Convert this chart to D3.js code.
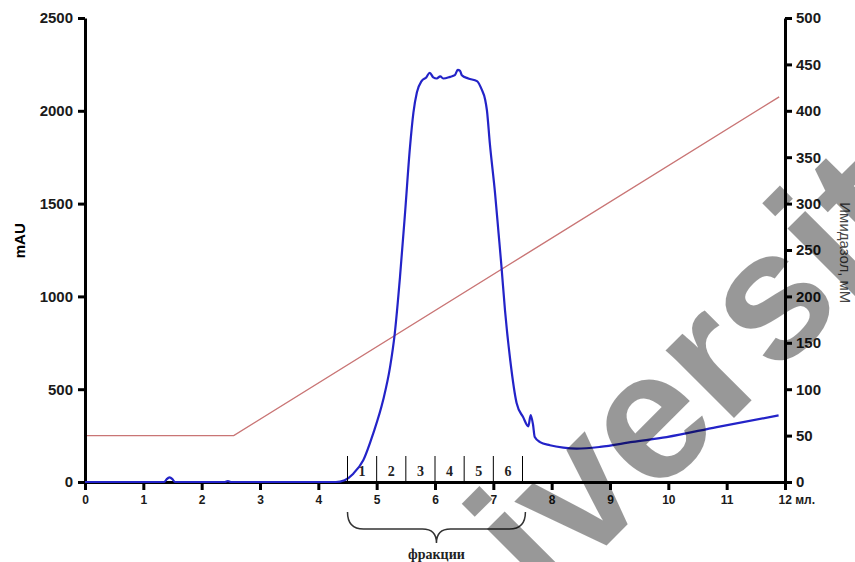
<!DOCTYPE html>
<html>
<head>
<meta charset="utf-8">
<style>
  body { margin: 0; background: #fff; }
  .axis path, .axis line { stroke: #000; stroke-width: 3; }
  .axis text { font-family: "Liberation Sans", Arial, sans-serif; font-weight: bold; fill: #1a1a1a; }
  .uv { fill: none; stroke: #2323c8; stroke-width: 2.2; stroke-linejoin: round; }
  .grad { fill: none; stroke: #c97575; stroke-width: 1.4; }
  .frac line { stroke: #000; stroke-width: 1; }
  .frac text, .brace-label { font-family: "Liberation Serif", "Times New Roman", serif; font-weight: bold; font-size: 14px; fill: #222; }
</style>
</head>
<body>
<script src="https://d3js.org/d3.v7.min.js"></script>
<div class="chart"></div>
<script>
// UV trace (mAU) vs volume (ml)
var uvVolume = [0, 1.36, 1.40, 1.45, 1.50, 1.54, 2.40, 2.45, 2.50, 4.30, 4.45, 4.60, 4.77, 4.94, 5.11, 5.23, 5.31, 5.40, 5.49, 5.57, 5.63, 5.69, 5.77, 5.85, 5.91, 5.97, 6.03, 6.09, 6.14, 6.26, 6.34, 6.39, 6.43, 6.46, 6.57, 6.72, 6.80, 6.86, 6.89, 6.94, 7.03, 7.09, 7.14, 7.20, 7.29, 7.40, 7.51, 7.60, 7.64, 7.68, 7.71, 7.80, 7.97, 8.20, 8.43, 8.83, 9.39, 9.97, 10.83, 11.89];
var uvMAU = [0, 0, 15, 25, 15, 0, 0, 5, 0, 0, 10, 45, 117, 261, 440, 620, 800, 1105, 1464, 1800, 1990, 2100, 2160, 2180, 2205, 2180, 2174, 2186, 2174, 2183, 2192, 2220, 2215, 2192, 2174, 2160, 2115, 2060, 2003, 1824, 1554, 1340, 1159, 925, 656, 424, 350, 300, 360, 310, 242, 215, 198, 185, 180, 189, 216, 242, 296, 359];

// imidazole gradient (mM)
var gradVolume = [0, 2.55, 11.9];
var gradMM = [50, 50, 415];

// fractions
var fracBounds = [4.5, 5.0, 5.5, 6.0, 6.5, 7.0, 7.5];
var fracNames = ["1", "2", "3", "4", "5", "6"];

var xTicks = [0, 1, 2, 3, 4, 5, 6, 7, 8, 9, 10, 11, 12];
var leftTicks = [0, 500, 1000, 1500, 2000, 2500];
var rightTicks = [0, 50, 100, 150, 200, 250, 300, 350, 400, 450, 500];

var W = 855, H = 562;
var margin = {top: 18, right: 70, bottom: 80, left: 85};
var width = W - margin.left - margin.right,
    height = H - margin.top - margin.bottom;

var x = d3.scaleLinear().domain([0, 12]).range([0, width]);
var yL = d3.scaleLinear().domain([0, 2500]).range([height, 0]);
var yR = d3.scaleLinear().domain([0, 500]).range([height, 0]);

var root = d3.select(".chart").append("svg")
    .attr("width", W)
    .attr("height", H);
var svg = root.append("g")
    .attr("transform", "translate(" + margin.left + "," + margin.top + ")");

// gradient line
var gradData = gradVolume.map(function(v, i) { return {v: v, c: gradMM[i]}; });
svg.append("path")
    .datum(gradData)
    .attr("class", "grad")
    .attr("d", d3.line().x(function(d) { return x(d.v); }).y(function(d) { return yR(d.c); }));

// axes
svg.append("g")
    .attr("class", "axis")
    .call(d3.axisLeft(yL).tickValues(leftTicks).tickFormat(d3.format("d"))
        .tickSize(7).tickSizeOuter(0).tickPadding(5))
    .selectAll("text").style("font-size", "15px");

svg.append("g")
    .attr("class", "axis")
    .attr("transform", "translate(" + width + ",0)")
    .call(d3.axisRight(yR).tickValues(rightTicks).tickFormat(d3.format("d"))
        .tickSize(7).tickSizeOuter(0).tickPadding(4))
    .selectAll("text").style("font-size", "15px");

var xAxis = svg.append("g")
    .attr("class", "axis")
    .attr("transform", "translate(0," + height + ")")
    .call(d3.axisBottom(x).tickValues(xTicks).tickSize(8).tickSizeOuter(0).tickPadding(5)
        .tickFormat(function(d) { return d === 12 ? "12 мл." : d; }));
xAxis.selectAll("text").style("font-size", "12px")
    .filter(function(d) { return d === 12; })
    .attr("text-anchor", "start")
    .attr("dx", "-7");

// UV trace
var uvData = uvVolume.map(function(v, i) { return {v: v, a: uvMAU[i]}; });
svg.append("path")
    .datum(uvData)
    .attr("class", "uv")
    .attr("d", d3.line().curve(d3.curveMonotoneX)
        .x(function(d) { return x(d.v); }).y(function(d) { return yL(d.a); }));

// axis titles
svg.append("text")
    .attr("transform", "translate(" + (20 - margin.left) + "," + (yL(1300)) + ") rotate(-90)")
    .attr("text-anchor", "middle")
    .attr("dy", "0.35em")
    .style("font-family", "Liberation Sans, Arial, sans-serif")
    .style("font-weight", "bold")
    .style("font-size", "15px")
    .text("mAU");

svg.append("text")
    .attr("transform", "translate(" + (width + 60) + "," + (yR(247)) + ") rotate(90)")
    .attr("text-anchor", "middle")
    .attr("dy", "0.35em")
    .style("font-family", "Liberation Sans, Arial, sans-serif")
    .style("font-size", "15px")
    .style("fill", "#444")
    .text("Имидазол, мМ");

// fraction marks
var frac = svg.append("g").attr("class", "frac");
frac.selectAll("line")
    .data(fracBounds)
    .enter().append("line")
    .attr("x1", function(d) { return x(d); })
    .attr("x2", function(d) { return x(d); })
    .attr("y1", height - 26)
    .attr("y2", height);
frac.selectAll("text")
    .data(fracNames)
    .enter().append("text")
    .attr("x", function(d, i) { return x((fracBounds[i] + fracBounds[i + 1]) / 2); })
    .attr("y", height - 6)
    .attr("text-anchor", "middle")
    .text(function(d) { return d; });

// brace under the fractions
var bx0 = x(4.5), bx1 = x(7.55), bm = (bx0 + bx1) / 2;
var by0 = height + 30, by1 = height + 47, by2 = height + 61;
svg.append("path")
    .attr("fill", "none")
    .attr("stroke", "#333")
    .attr("stroke-width", 1.5)
    .attr("d",
      "M" + bx0 + "," + by0 +
      " Q" + bx0 + "," + by1 + " " + (bx0 + 16) + "," + by1 +
      " L" + (bm - 14) + "," + by1 +
      " Q" + bm + "," + by1 + " " + bm + "," + by2 +
      " Q" + bm + "," + by1 + " " + (bm + 14) + "," + by1 +
      " L" + (bx1 - 16) + "," + by1 +
      " Q" + bx1 + "," + by1 + " " + bx1 + "," + by0);

svg.append("text")
    .attr("class", "brace-label")
    .attr("x", bm)
    .attr("y", height + 77)
    .attr("text-anchor", "middle")
    .text("фракции");

// watermark
root.append("text")
    .attr("transform", "translate(546,606) rotate(-45)")
    .style("font-family", "Liberation Sans, Arial, sans-serif")
    .style("font-weight", "bold")
    .style("font-size", "182px")
    .style("fill", "#000")
    .style("opacity", 0.4)
    .text("iversit");
</script>
</body>
</html>
